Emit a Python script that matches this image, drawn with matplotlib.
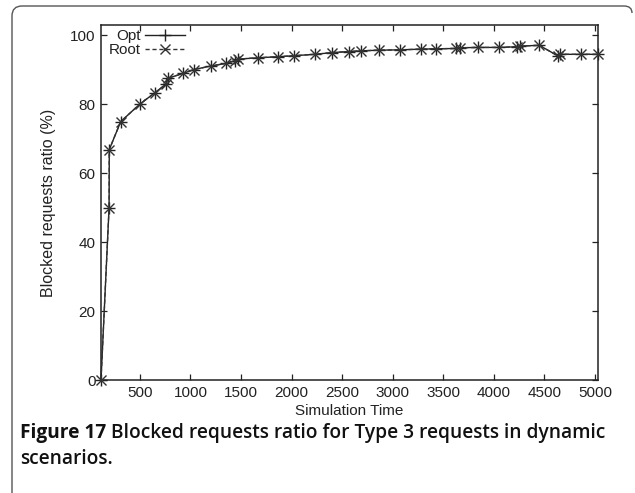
import matplotlib
matplotlib.use("Agg")
import matplotlib.pyplot as plt
from matplotlib.path import Path
from matplotlib.patches import PathPatch
from matplotlib.lines import Line2D

# ---- data ----
sim_time = [115, 195, 197, 310, 500, 650, 755, 780, 930, 1035, 1200, 1355, 1445, 1465,
            1670, 1865, 2025, 2230, 2400, 2565, 2685, 2860, 3070, 3275, 3430, 3630,
            3670, 3845, 4055, 4230, 4255, 4450, 4630, 4650, 4860, 5030]
opt_ratio = [0, 50, 66.8, 74.9, 80, 83.3, 85.7, 87.5, 88.9, 90.0, 91.0, 91.8, 92.6, 93.0,
             93.4, 93.7, 94.0, 94.4, 94.9, 95.2, 95.4, 95.6, 95.7, 95.9, 96.0, 96.1,
             96.3, 96.4, 96.4, 96.6, 96.8, 97.0, 94.0, 94.4, 94.4, 94.4]
root_ratio = [0, 50, 66.8, 74.9, 80, 83.3, 85.7, 87.5, 88.9, 90.0, 91.0, 91.8, 92.6, 93.0,
              93.4, 93.7, 94.0, 94.4, 94.9, 95.2, 95.4, 95.6, 95.7, 95.9, 96.0, 96.1,
              96.3, 96.4, 96.4, 96.6, 96.8, 97.0, 94.0, 94.4, 94.4, 94.4]
x_ticks = [500, 1000, 1500, 2000, 2500, 3000, 3500, 4000, 4500, 5000]
y_ticks = [0, 20, 40, 60, 80, 100]
series_labels = ["Opt", "Root"]
x_label = "Simulation Time"
y_label = "Blocked requests ratio (%)"
caption_bold = "Figure 17"
caption_line1 = " Blocked requests ratio for Type 3 requests in dynamic"
caption_line2 = "scenarios."

W, H = 635, 493
fig = plt.figure(figsize=(W / 100, H / 100), dpi=100)
fig.patch.set_facecolor("white")

def fx(px):
    return px / W

def fy(py):
    return 1 - py / H

L, R, T, B = 101, 598, 25, 380
ax = fig.add_axes([fx(L), fy(B), (R - L) / W, (B - T) / H])

font = ["Liberation Sans", "DejaVu Sans"]
ink = "#222222"

ax.plot(sim_time, opt_ratio, color=ink, lw=1.0, ls="-", marker="+", ms=8, mew=1.0,
        label=series_labels[0], zorder=3, clip_on=False)
ax.plot(sim_time, root_ratio, color="#333333", lw=1.0, ls=(0, (3, 2)), marker="x",
        ms=6.5, mew=1.0, label=series_labels[1], zorder=3, clip_on=False)

ax.set_xlim(115, 5030)
ax.set_ylim(0, 102.9)
ax.set_xticks(x_ticks)
ax.set_yticks(y_ticks)
ax.tick_params(direction="in", length=4.5, width=0.9, top=True, right=True,
               labeltop=False, labelright=False, labelsize=11, colors=ink, pad=4)
for lab in ax.get_xticklabels() + ax.get_yticklabels():
    lab.set_fontfamily(font)
for s in ax.spines.values():
    s.set_linewidth(1.1)
    s.set_color(ink)

ax.set_xlabel(x_label, fontsize=11, family=font, color=ink, labelpad=3)
ax.set_ylabel(y_label, fontsize=11.5, family=font, color=ink, labelpad=10)

handles = [
    Line2D([], [], color=ink, lw=1.0, marker="+", ms=8, mew=1.0),
    Line2D([], [], color="#333333", lw=1.0, ls=(0, (3, 2)), marker="x", ms=6.5, mew=1.0),
]
leg = ax.legend(handles, series_labels, loc="upper left", frameon=False,
                markerfirst=False, handlelength=2.6, handletextpad=0.3,
                labelspacing=0.0, borderaxespad=0.0, borderpad=0.0,
                bbox_to_anchor=(fx(111) - fx(L), 1 - (29 - T) / (B - T)),
                bbox_transform=ax.transAxes,
                prop={"family": font, "size": 11})
for t in leg.get_texts():
    t.set_color(ink)

# outer rounded frame (figure box on the page)
verts = [(12, 493), (12, 16), (12, 6), (22, 6), (624, 6), (632, 6), (632, 13)]
codes = [Path.MOVETO, Path.LINETO, Path.CURVE3, Path.CURVE3, Path.LINETO,
         Path.CURVE3, Path.CURVE3]
path = Path([(fx(a), fy(b)) for a, b in verts], codes)
fig.patches.append(PathPatch(path, transform=fig.transFigure, fill=False,
                             edgecolor="#555555", lw=1.0))

cap_font = ["Open Sans", "DejaVu Sans"]
cap_size = 13.8
fig.canvas.draw()
r = fig.canvas.get_renderer()
t1 = fig.text(fx(20), fy(438), caption_bold, fontsize=cap_size, fontweight="bold",
              family=cap_font, color="#111111", va="baseline", ha="left")
bb = t1.get_window_extent(renderer=r)
fig.text(bb.x1 / W, fy(438), caption_line1, fontsize=cap_size, fontweight="semibold",
         family=cap_font, color="#111111", va="baseline", ha="left")
fig.text(fx(20), fy(464), caption_line2, fontsize=cap_size, fontweight="semibold",
         family=cap_font, color="#111111", va="baseline", ha="left")

fig.savefig("out.png", dpi=100, facecolor="white")
